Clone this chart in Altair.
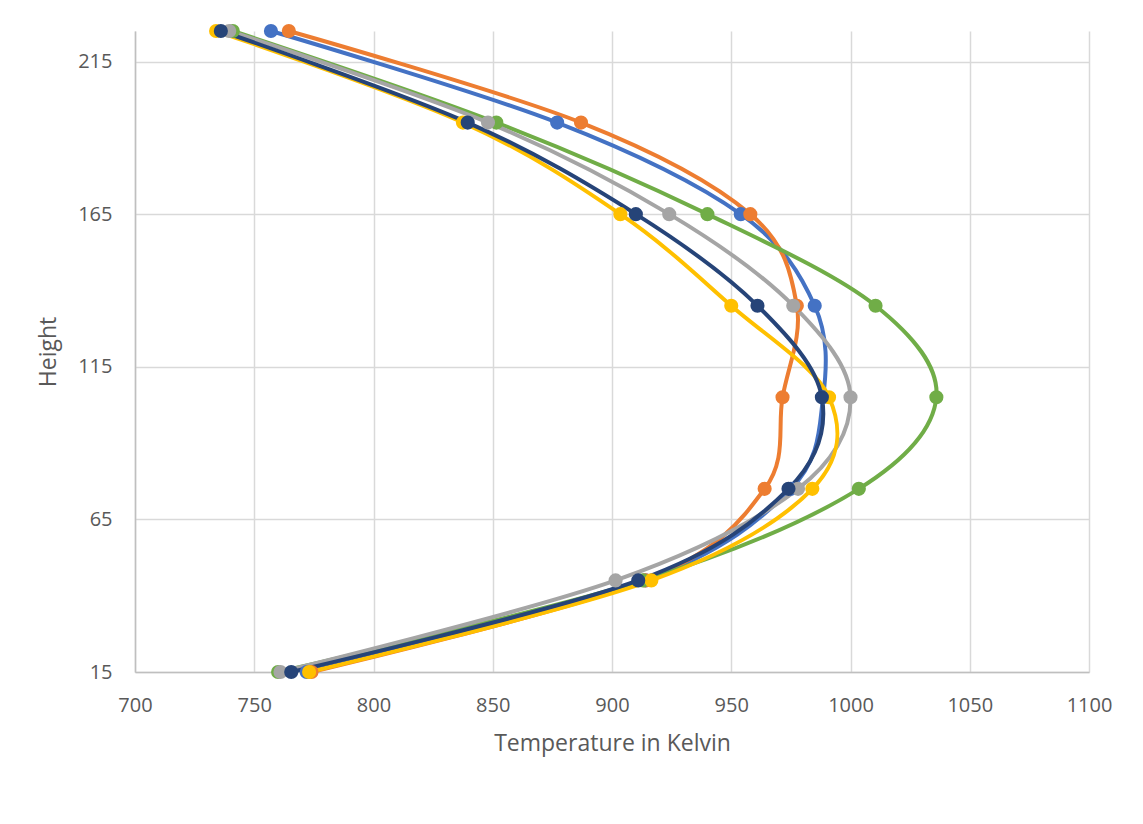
import altair as alt
import pandas as pd

heights = [15, 45, 75, 105, 135, 165, 195, 225]
series_names = ["Series 1", "Series 2", "Series 3", "Series 4", "Series 5", "Series 6"]
series_colors = ["#4472C4", "#ED7D31", "#70AD47", "#A5A5A5", "#FFC000", "#264478"]

temp_s1 = [772, 914, 975, 988.5, 985, 954, 877, 757]
temp_s2 = [774, 914, 964, 971.5, 977.5, 958, 887, 764.5]
temp_s3 = [760, 913, 1003.5, 1036, 1010.5, 940, 851.5, 741]
temp_s4 = [761, 901.5, 978, 1000, 976, 924, 848, 739.5]
temp_s5 = [773, 916.5, 984, 991, 950, 903.5, 837.5, 734]
temp_s6 = [765.5, 911, 974, 988, 961, 910, 839.5, 736]

x_ticks = [700, 750, 800, 850, 900, 950, 1000, 1050, 1100]
y_ticks = [15, 65, 115, 165, 215]

all_temps = [temp_s1, temp_s2, temp_s3, temp_s4, temp_s5, temp_s6]
rows = []
for i, (name, temps) in enumerate(zip(series_names, all_temps)):
    for h, t in zip(heights, temps):
        rows.append({"series": name, "idx": i, "height": h, "temp": t})
df = pd.DataFrame(rows)

font = "Open Sans"
text_color = "#595959"

x_enc = alt.X("temp:Q", scale=alt.Scale(domain=[700, 1100], nice=False, zero=False),
              axis=alt.Axis(values=x_ticks, title="Temperature in Kelvin", ticks=False,
                            format="d", labelFlush=False,
                            labelPadding=23, titlePadding=17, grid=True))
y_enc = alt.Y("height:Q", scale=alt.Scale(domain=[15, 225], nice=False, zero=False),
              axis=alt.Axis(values=y_ticks, title="Height", ticks=False, format="d",
                            labelFlush=False,
                            labelPadding=23, titlePadding=17, grid=True))
color_enc = alt.Color("series:N", scale=alt.Scale(domain=series_names, range=series_colors),
                      legend=None)

base = alt.Chart(df)
lines = base.mark_line(interpolate="cardinal", strokeWidth=4).encode(
    x=x_enc, y=y_enc, color=color_enc, order=alt.Order("height:Q"),
    detail="series:N")
points = base.mark_circle(size=200, opacity=1).encode(
    x=x_enc, y=y_enc, color=color_enc, order=alt.Order("idx:Q"))

chart = alt.layer(lines, points).properties(
    width=954, height=641,
    autosize=alt.AutoSizeParams(type="none"),
    padding={"left": 135, "top": 31, "right": 54, "bottom": 152},
).configure(background="white").configure_view(stroke=None).configure_axis(
    labelFont=font, titleFont=font, labelFontSize=20, titleFontSize=23,
    labelColor=text_color, titleColor=text_color, titleFontWeight="normal",
    gridColor="#D9D9D9", gridWidth=1.5, domainColor="#BFBFBF", domainWidth=1.5,
)

chart.save("out.html", embed_options={"renderer": "svg", "actions": False})
